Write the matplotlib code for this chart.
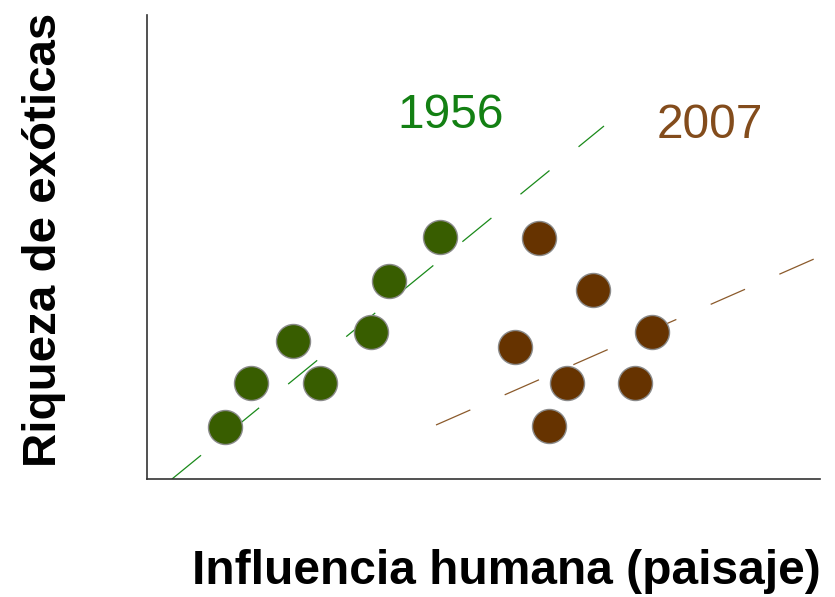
import matplotlib
matplotlib.use("Agg")
import matplotlib.pyplot as plt

# points (arbitrary units, axis range 0..673 x 0..464)
x_1956 = [78, 104, 146, 173, 224, 242, 293]
y_1956 = [52, 96, 138, 96, 147, 198, 242]
x_2007 = [392, 446, 368, 420, 488, 505, 402]
y_2007 = [241, 189, 132, 96, 96, 147, 53]

# dashed trend lines (endpoints)
trend_1956_x = [25, 457]
trend_1956_y = [0, 353]
trend_2007_x = [289, 667]
trend_2007_y = [54, 220]

plt.rcParams["font.family"] = ["Liberation Sans", "DejaVu Sans"]

fig = plt.figure(figsize=(8.35, 5.97), dpi=100)
ax = fig.add_axes([147 / 835, 118 / 597, 673 / 835, 464 / 597])
ax.set_xlim(0, 673)
ax.set_ylim(0, 464)

ax.plot(trend_1956_x, trend_1956_y, color="#1a8a1a", lw=0.9,
        dashes=(30, 30))
ax.plot(trend_2007_x, trend_2007_y, color="#8b5a2b", lw=0.9,
        dashes=(30, 30))

ax.plot(x_1956, y_1956, "o", ms=24.5, color="#385d00",
        mec="#8a8a8a", mew=1.0, ls="none")
ax.plot(x_2007, y_2007, "o", ms=24.5, color="#663300",
        mec="#8a8a8a", mew=1.0, ls="none")

ax.text(304, 363, "1956", color="#138013", fontsize=34.5,
        ha="center", va="center")
ax.text(563, 354, "2007", color="#834c1c", fontsize=34.5,
        ha="center", va="center")

for s in ("top", "right"):
    ax.spines[s].set_visible(False)
for s in ("left", "bottom"):
    ax.spines[s].set_color("#333333")
    ax.spines[s].set_linewidth(1.2)
ax.set_xticks([])
ax.set_yticks([])

fig.text(506 / 835, 1 - 571 / 597, "Influencia humana (paisaje)",
         fontsize=34.5, fontweight="bold", ha="center", va="center")
fig.text(44 / 835, 1 - 240 / 597, "Riqueza de exóticas",
         fontsize=34.2, fontweight="bold", ha="center", va="center",
         rotation=90)

fig.savefig("out.png", dpi=100)
